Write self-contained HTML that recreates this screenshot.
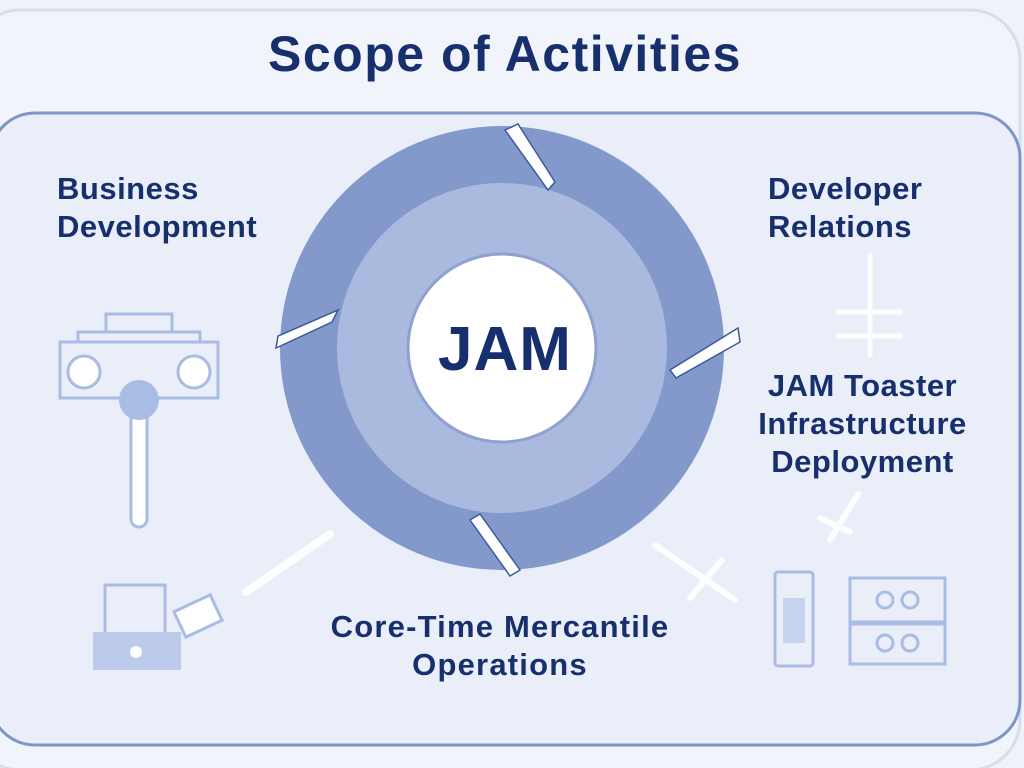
<!DOCTYPE html>
<html><head><style>
body{margin:0;width:1024px;height:768px;background:#eef2f9;overflow:hidden;font-family:"Liberation Sans",sans-serif;position:relative}
.t{position:absolute;color:#17306d;font-weight:bold;font-size:31px;line-height:38px;letter-spacing:0.5px}
</style></head><body>
<svg width="1024" height="768" style="position:absolute;left:0;top:0">
<rect x="-30" y="10" width="1050" height="760" rx="50" fill="#f1f4fa" stroke="#d5ddee" stroke-width="3"/>
<rect x="-10" y="113" width="1030" height="632" rx="45" fill="#e9eef8" stroke="#7f95c8" stroke-width="3"/>
<circle cx="502" cy="348" r="222" fill="#8399cc"/>
<circle cx="502" cy="348" r="165" fill="#aab9de"/>
<circle cx="502" cy="348" r="94" fill="#fff" stroke="#8ea1d0" stroke-width="3"/>
<g fill="#fff" stroke="#3d5a9e" stroke-width="1.5">
<polygon points="505,130 518,124 555,182 548,190"/>
<polygon points="276,348 278,336 338,310 332,322"/>
<polygon points="670,370 676,378 740,342 738,328"/>
<polygon points="470,520 480,514 520,570 510,576"/>
</g>
<g stroke="#fff" stroke-linecap="round" opacity="0.95">
<line x1="246" y1="592" x2="330" y2="534" stroke-width="8"/>
<line x1="870" y1="255" x2="870" y2="355" stroke-width="5"/>
<line x1="838" y1="312" x2="900" y2="312" stroke-width="5"/>
<line x1="838" y1="336" x2="900" y2="336" stroke-width="5"/>
<line x1="858" y1="494" x2="830" y2="540" stroke-width="6"/>
<line x1="820" y1="518" x2="850" y2="532" stroke-width="6"/>
<line x1="655" y1="545" x2="735" y2="600" stroke-width="6"/>
<line x1="690" y1="598" x2="722" y2="560" stroke-width="6"/>
</g>
<g fill="none" stroke="#a9bce4" stroke-width="3">
<rect x="106" y="314" width="66" height="18"/>
<rect x="78" y="332" width="122" height="10"/>
<rect x="60" y="342" width="158" height="56"/>
<circle cx="84" cy="372" r="16" fill="#fff"/>
<circle cx="194" cy="372" r="16" fill="#fff"/>
<rect x="131" y="405" width="16" height="122" rx="8" fill="#fff"/>
<rect x="775" y="572" width="38" height="94" rx="3"/>
<rect x="850" y="578" width="95" height="44"/>
<rect x="850" y="624" width="95" height="40"/>
<circle cx="885" cy="600" r="8"/><circle cx="910" cy="600" r="8"/>
<circle cx="885" cy="643" r="8"/><circle cx="910" cy="643" r="8"/>
<rect x="105" y="585" width="60" height="50"/>
<rect x="178" y="602" width="40" height="28" transform="rotate(-25 198 616)" fill="#fff"/>
</g>
<circle cx="139" cy="400" r="20" fill="#a9bce4"/>
<rect x="783" y="598" width="22" height="45" fill="#c7d3ee"/>
<rect x="93" y="632" width="88" height="38" fill="#bccbeb"/>
<circle cx="136" cy="652" r="6" fill="#fff"/>
</svg>
<div class="t" style="left:0;width:1010px;top:24px;text-align:center;font-size:50px;line-height:60px;letter-spacing:1.5px">Scope of Activities</div>
<div class="t" style="left:405px;width:200px;top:316px;text-align:center;font-size:62px;line-height:68px;letter-spacing:1px">JAM</div>
<div class="t" style="left:57px;top:170px">Business<br>Development</div>
<div class="t" style="left:768px;top:170px">Developer<br>Relations</div>
<div class="t" style="left:745px;width:235px;top:367px;text-align:center">JAM Toaster<br>Infrastructure<br>Deployment</div>
<div class="t" style="left:280px;width:440px;top:608px;text-align:center;letter-spacing:1.2px">Core-Time Mercantile<br>Operations</div>
</body></html>
